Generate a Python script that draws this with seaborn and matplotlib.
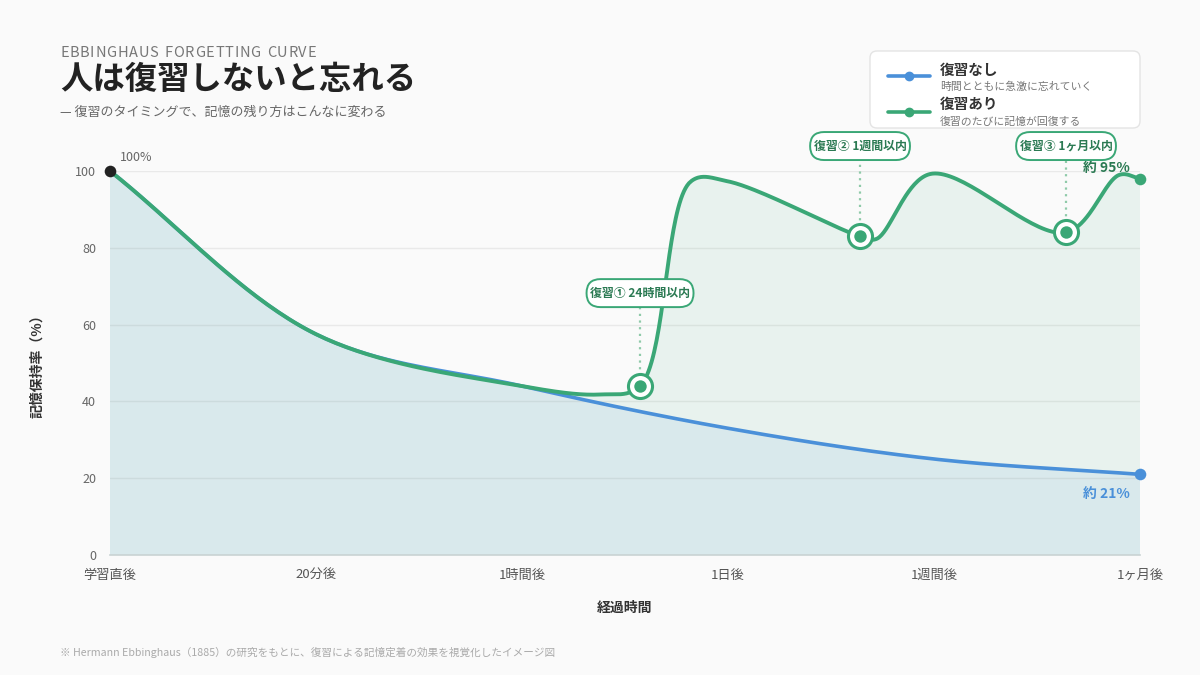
import numpy as np
import pandas as pd
import matplotlib
matplotlib.use("Agg")
import matplotlib.pyplot as plt
import seaborn as sns
from matplotlib.patches import FancyBboxPatch
from matplotlib.lines import Line2D
from matplotlib.transforms import IdentityTransform

# Setup
sns.set_theme(style="white")
plt.rcParams['font.family'] = ['Noto Sans CJK JP', 'DejaVu Sans']

# Data (x = position on the time axis, 0 = 学習直後 ... 5 = 1ヶ月後)
time_labels = ['学習直後', '20分後', '1時間後', '1日後', '1週間後', '1ヶ月後']

no_review_x = [0, 1, 2, 3, 4, 5]
no_review_y = [100, 57.5, 44, 33, 25, 21]

review_x = [0, 1, 2, 2.38, 2.573, 2.82, 3.0, 3.641, 3.72, 3.98, 4.641, 4.9, 5]
review_y = [100, 57.5, 44, 41.8, 44, 97.3, 97.3, 83, 82.3, 99.2, 84, 99, 98]

review_pts_x = [2.573, 3.641, 4.641]
review_pts_y = [44, 83, 84]
review_names = ['復習① 24時間以内', '復習② 1週間以内', '復習③ 1ヶ月以内']

BLUE = '#4a90d9'
GREEN = '#3aa776'
DGREEN = '#2b7a53'
BG = '#fafafa'
W, H = 1200, 675

# px per unit, used to smooth curves in screen-like space
SX, SY = 206.0, 3.84


def smooth(xs, ys, n=40, alpha=0.5):
    """centripetal catmull-rom through the points"""
    P = np.column_stack([np.asarray(xs, float) * SX, np.asarray(ys, float) * SY])
    P = np.vstack([2 * P[0] - P[1], P, 2 * P[-1] - P[-2]])
    out = []
    for i in range(1, len(P) - 2):
        p0, p1, p2, p3 = P[i - 1], P[i], P[i + 1], P[i + 2]
        t0 = 0.0
        t1 = t0 + np.linalg.norm(p1 - p0) ** alpha
        t2 = t1 + np.linalg.norm(p2 - p1) ** alpha
        t3 = t2 + np.linalg.norm(p3 - p2) ** alpha
        t = np.linspace(t1, t2, n, endpoint=False)[:, None]
        a1 = (t1 - t) / (t1 - t0) * p0 + (t - t0) / (t1 - t0) * p1
        a2 = (t2 - t) / (t2 - t1) * p1 + (t - t1) / (t2 - t1) * p2
        a3 = (t3 - t) / (t3 - t2) * p2 + (t - t2) / (t3 - t2) * p3
        b1 = (t2 - t) / (t2 - t0) * a1 + (t - t0) / (t2 - t0) * a2
        b2 = (t3 - t) / (t3 - t1) * a2 + (t - t1) / (t3 - t1) * a3
        c = (t2 - t) / (t2 - t1) * b1 + (t - t1) / (t2 - t1) * b2
        out.append(c)
    out.append(P[-2][None])
    c = np.vstack(out)
    return pd.DataFrame({'x': c[:, 0] / SX, 'y': c[:, 1] / SY})


blue_df = smooth(no_review_x, no_review_y)
green_df = smooth(review_x, review_y)

fig = plt.figure(figsize=(12, 6.75), dpi=100, facecolor=BG)
renderer = fig.canvas.get_renderer()
ax = fig.add_axes([110 / W, 1 - 555 / H, 1030 / W, 384 / H])
ax.set_facecolor(BG)

# fills
ax.fill(np.r_[green_df.x, 5, 0], np.r_[green_df.y, 0, 0], color=GREEN, alpha=0.09, lw=0)
ax.fill(np.r_[blue_df.x, 5, 0], np.r_[blue_df.y, 0, 0], color=BLUE, alpha=0.09, lw=0)

# grid
for v in [20, 40, 60, 80, 100]:
    ax.axhline(v, color='#e9e9e9', lw=1, zorder=0.5)

sns.lineplot(data=blue_df, x='x', y='y', sort=False, color=BLUE, lw=2.6, ax=ax,
             clip_on=False, zorder=3)
sns.lineplot(data=green_df, x='x', y='y', sort=False, color=GREEN, lw=2.8, ax=ax,
             clip_on=False, zorder=4)

# end / start points
sns.scatterplot(x=[no_review_x[-1]], y=[no_review_y[-1]], color=BLUE, s=70, lw=0,
                ax=ax, clip_on=False, zorder=6)
sns.scatterplot(x=[review_x[-1]], y=[review_y[-1]], color=GREEN, s=70, lw=0,
                ax=ax, clip_on=False, zorder=6)
sns.scatterplot(x=[review_x[0]], y=[review_y[0]], color='#222222', s=70, lw=0,
                ax=ax, clip_on=False, zorder=7)

# axes
ax.set_xlim(0, 5)
ax.set_ylim(0, 100)
ax.set_xticks(range(6))
ax.set_xticklabels(time_labels)
ax.set_yticks([0, 20, 40, 60, 80, 100])
ax.tick_params(axis='x', colors='#555555', labelsize=9.5, length=4, width=1,
               color='#cccccc', pad=6)
ax.tick_params(axis='y', colors='#666666', labelsize=9, length=0, pad=10)
for s in ['top', 'right', 'left']:
    ax.spines[s].set_visible(False)
ax.spines['bottom'].set_color('#c9d3d3')
ax.spines['bottom'].set_linewidth(1.2)
ax.set_xlabel('経過時間', fontsize=10, fontweight='bold', color='#333333', labelpad=14)
ax.set_ylabel('記憶保持率（%）', fontsize=10, fontweight='bold', color='#333333',
              labelpad=22)

# review markers, dotted leaders and pill labels
box_y = [68.2, 106.5, 106.5]
for rx, ry, name, by in zip(review_pts_x, review_pts_y, review_names, box_y):
    ax.plot([rx, rx], [ry + 2.5, by - 3.7], ls=(0, (1, 2)), color='#8fcaa9', lw=1.6,
            clip_on=False, zorder=2)
    ax.scatter([rx], [ry], s=300, facecolor='white', edgecolor=GREEN, lw=2.2,
               zorder=8, clip_on=False)
    ax.scatter([rx], [ry], s=80, color=GREEN, lw=0, zorder=9, clip_on=False)
    t = ax.text(rx, by, name, ha='center', va='center', fontsize=8.6,
                fontweight='bold', color=DGREEN, zorder=11, clip_on=False)
    cx, cy = ax.transData.transform((rx, by))
    tw = t.get_window_extent(renderer).width + 7
    bh = 28
    pill = FancyBboxPatch((cx - tw / 2, cy - bh / 2), tw, bh,
                          boxstyle='round,pad=0,rounding_size=14',
                          transform=IdentityTransform(), fc='white', ec=GREEN,
                          lw=1.4, zorder=10, clip_on=False)
    ax.add_patch(pill)

ax.text(0.05, 103.5, '100%', fontsize=9, color='#666666', ha='left', va='center')
ax.text(4.95, 100.8, '約 95%', fontsize=10, fontweight='bold', color=DGREEN,
        ha='right', va='center')
ax.text(4.95, 16, '約 21%', fontsize=10, fontweight='bold', color=BLUE,
        ha='right', va='center')

# titles
kicker = 'EBBINGHAUS FORGETTING CURVE'
widths = []
for ch in kicker:
    tt = fig.text(0, 0, ch if ch != ' ' else 'n', fontsize=10.5)
    widths.append(tt.get_window_extent(renderer).width * (0.55 if ch == ' ' else 1))
    tt.remove()
gap = (256 - sum(widths)) / (len(kicker) - 1)
xpos = 60.0
for ch, w in zip(kicker, widths):
    if ch != ' ':
        fig.text(xpos / W, 1 - 53 / H, ch, fontsize=10.5, color='#777777',
                 ha='left', va='center')
    xpos += w + gap

fig.text(60 / W, 1 - 79 / H, '人は復習しないと忘れる', fontsize=23.3,
         fontweight='bold', color='#222222', ha='left', va='center')
fig.text(60 / W, 1 - 112 / H, '— 復習のタイミングで、記憶の残り方はこんなに変わる',
         fontsize=9.35, color='#666666', ha='left', va='center')
fig.text(60 / W, 1 - 652 / H,
         '※ Hermann Ebbinghaus（1885）の研究をもとに、復習による記憶定着の効果を視覚化したイメージ図',
         fontsize=7.65, color='#aaaaaa', ha='left', va='center')

# legend card
card = FancyBboxPatch((870, H - 128), 270, 77, boxstyle='round,pad=0,rounding_size=7',
                      transform=IdentityTransform(), fc='white', ec='#e4e4e4', lw=1)
fig.add_artist(card)
legend_items = [(BLUE, '復習なし', '時間とともに急激に忘れていく', 76, 70, 87),
                (GREEN, '復習あり', '復習のたびに記憶が回復する', 112, 104, 122)]
for col, head, desc, ly, hy, dy in legend_items:
    fig.add_artist(Line2D([888 / W, 930 / W], [1 - ly / H] * 2, color=col,
                          lw=2.6, transform=fig.transFigure))
    fig.add_artist(Line2D([909 / W], [1 - ly / H], marker='o', ms=6, color=col,
                          transform=fig.transFigure))
    fig.text(940 / W, 1 - hy / H, head, fontsize=10.5, fontweight='bold',
             color='#333333', ha='left', va='center')
    fig.text(940 / W, 1 - dy / H, desc, fontsize=7.8, color='#777777',
             ha='left', va='center')

fig.savefig('out.png', dpi=100, facecolor=BG)
